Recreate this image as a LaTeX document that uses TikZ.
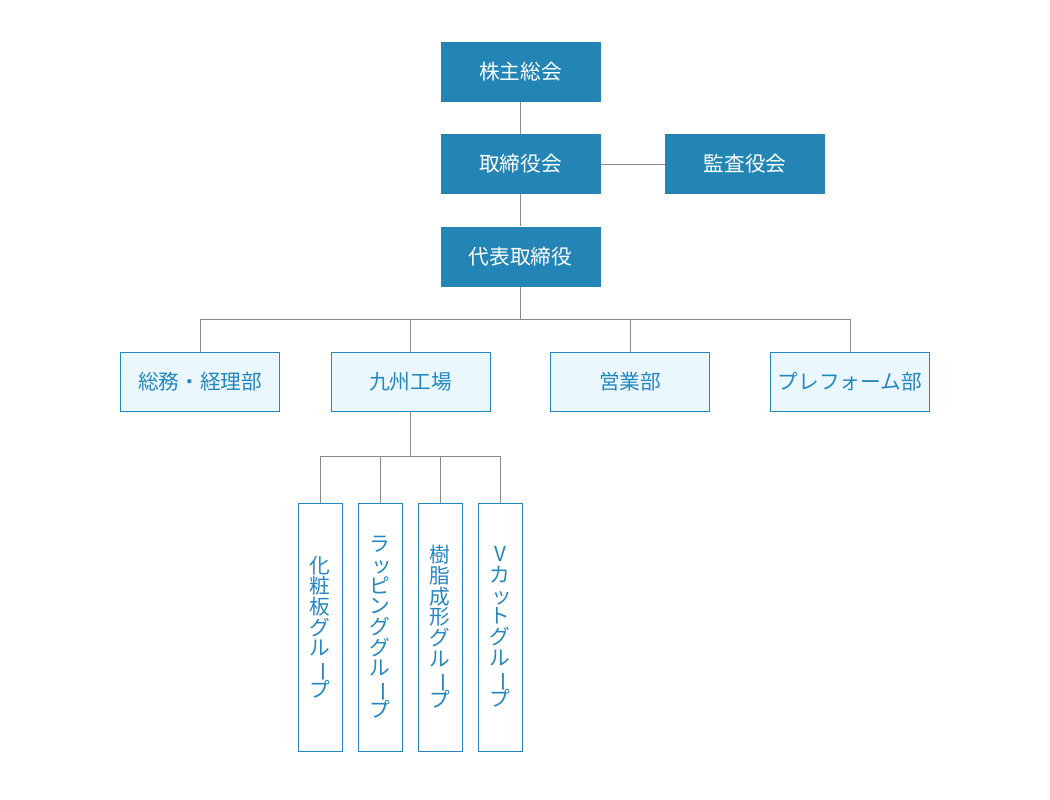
\documentclass[tikz,border=0pt]{standalone}
\usepackage{fontspec}
\usepackage{graphicx}
\setmainfont{Noto Sans CJK JP}
\usetikzlibrary{positioning}

\definecolor{topblue}{HTML}{2385B5}
\definecolor{paleblue}{HTML}{EAF7FE}
\definecolor{edgeblue}{HTML}{2487C0}
\definecolor{linegray}{HTML}{8A8A8A}

% vertical writing helpers
\newcommand{\chouon}{\raisebox{0pt}[0.8em][0.1em]{\rotatebox[origin=c]{-90}{ー}}}
\newcommand{\smalltsu}{\hspace{0.2em}ッ}
\newcommand{\tatefont}{\fontsize{15.5pt}{15.5pt}\selectfont}

\begin{document}
\begin{tikzpicture}[x=0.75pt, y=-0.75pt, node distance=24pt,
    headbox/.style={rectangle, fill=topblue, text=white, inner sep=0pt,
                minimum width=120pt, minimum height=45pt,
                font=\fontsize{15.5pt}{18pt}\selectfont},
    deptbox/.style={rectangle, draw=edgeblue, fill=paleblue, text=edgeblue,
                line width=0.75pt, inner sep=0pt, minimum width=119.25pt,
                minimum height=44.25pt, font=\fontsize{15.5pt}{18pt}\selectfont},
    groupbox/.style={rectangle, draw=edgeblue, fill=white, text=edgeblue,
                line width=0.75pt, inner sep=0pt, minimum width=33pt,
                minimum height=186pt, align=center, font=\tatefont},
    wire/.style={draw=linegray, line width=0.75pt}]
    \useasboundingbox (0,0) rectangle (1050,800);

    \coordinate (bus1) at (520.5,319);
    \coordinate (bus2) at (410.5,456);

    % top of the chart
    \node[headbox] (meeting) at (520.5,71.5) {株主総会};
    \node[headbox] (board) [below=of meeting] {取締役会};
    \node[headbox] (audit) [right=48pt of board] {監査役会};
    \node[headbox] (ceo) [below=of board] {代表取締役};

    % departments
    \node[deptbox] (admin)   at (200,381.5)   {総務・経理部};
    \node[deptbox] (kyushu)  at (410.5,381.5) {九州工場};
    \node[deptbox] (sales)   at (630,381.5)   {営業部};
    \node[deptbox] (preform) at (850,381.5)   {プレフォーム部};

    % factory groups
    \node[groupbox] (g1) at (320,627) {化\\粧\\板\\グ\\ル\\\chouon\\プ};
    \node[groupbox] (g2) at (380,627) {ラ\\\smalltsu\\ピ\\ン\\グ\\グ\\ル\\\chouon\\プ};
    \node[groupbox] (g3) at (440,627) {樹\\脂\\成\\形\\グ\\ル\\\chouon\\プ};
    \node[groupbox] (g4) at (500,627) {V\\カ\\\smalltsu\\ト\\グ\\ル\\\chouon\\プ};

    \draw[wire] (meeting) -- (board);
    \draw[wire] (board) -- (audit);
    \draw[wire] (board) -- (ceo);
    \draw[wire] (ceo) -- (bus1);
    \foreach \d in {admin,kyushu,sales,preform}
        \draw[wire] (bus1) -| (\d);
    \draw[wire] (kyushu) -- (bus2);
    \foreach \g in {g1,g2,g3,g4}
        \draw[wire] (bus2) -| (\g);
\end{tikzpicture}
\end{document}
